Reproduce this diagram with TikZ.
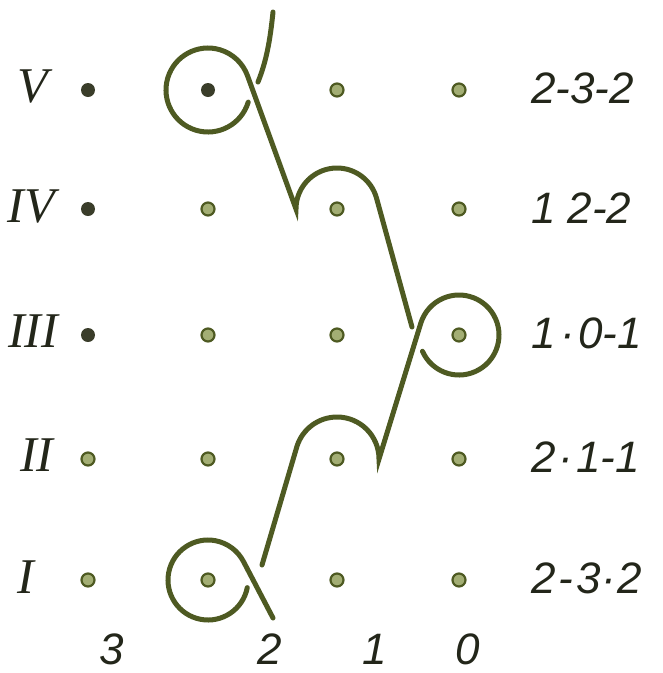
\documentclass[tikz,border=0pt]{standalone}
\usepackage{fontspec}
\setmainfont{Liberation Serif}
\setsansfont{Liberation Sans}
\definecolor{ink}{HTML}{4E5A22}
\definecolor{dotfill}{HTML}{A3AE74}
\definecolor{darkdot}{HTML}{3A3D2A}
\definecolor{txt}{HTML}{23261A}
\begin{document}
\begin{tikzpicture}[x=1pt,y=-1pt,
  curve/.style={draw=ink, line width=5pt, line cap=round, line join=miter},
  ringdot/.style={circle, draw=ink, fill=dotfill, line width=2.2pt, minimum size=13pt, inner sep=0pt},
  blackdot/.style={circle, fill=darkdot, minimum size=14pt, inner sep=0pt},
  llab/.style={font=\rmfamily\itshape\fontsize{50}{50}\selectfont, text=txt, inner sep=0pt},
  rlab/.style={font=\sffamily\itshape\fontsize{44}{44}\selectfont, text=txt, anchor=west, inner sep=0pt},
  blab/.style={font=\sffamily\itshape\fontsize{44}{44}\selectfont, text=txt, inner sep=0pt}]
\useasboundingbox (0,0) rectangle (663,673);
% dots: d<row><col>
\node[blackdot] (d53) at (88,90) {};
\node[blackdot] (d43) at (88,209) {};
\node[blackdot] (d33) at (88,335) {};
\node[ringdot]  (d23) at (88,459) {};
\node[ringdot]  (d13) at (88,580) {};
\node[blackdot] (d52) at (208,90) {};
\node[ringdot]  (d42) at (208,209) {};
\node[ringdot]  (d32) at (208,335) {};
\node[ringdot]  (d22) at (208,459) {};
\node[ringdot]  (d12) at (208,580) {};
\node[ringdot]  (d51) at (337,90) {};
\node[ringdot]  (d41) at (337,209) {};
\node[ringdot]  (d31) at (337,335) {};
\node[ringdot]  (d21) at (337,459) {};
\node[ringdot]  (d11) at (337,580) {};
\node[ringdot]  (d50) at (459,90) {};
\node[ringdot]  (d40) at (459,209) {};
\node[ringdot]  (d30) at (459,335) {};
\node[ringdot]  (d20) at (459,459) {};
\node[ringdot]  (d10) at (459,580) {};
% curves
\coordinate (top) at (273,12);
\coordinate (topend) at (258,82);
\coordinate (endB) at (412,327);
\coordinate (endC) at (262,565);
\coordinate (endD) at (273,618);
\draw[curve] (top) .. controls (270,42) and (266,62) .. (topend);
\draw[curve] ([shift={(16.7:42)}]d52.center) arc[start angle=16.7, end angle=340, radius=42]
   -- ([shift={(180:41)}]d41.center) arc[start angle=180, end angle=345, radius=41] -- (endB);
\draw[curve] ([shift={(156:40)}]d30.center) arc[start angle=156, end angle=-162, radius=40]
   -- ([shift={(0:42)}]d21.center) arc[start angle=0, end angle=-162, radius=42] -- (endC);
\draw[curve] ([shift={(11:40)}]d12.center) arc[start angle=11, end angle=333, radius=40] -- (endD);
% left labels
\node[llab] (lV) at (33,87) {V};
\node[llab] (lIV) at (31,207) {IV};
\node[llab] (lIII) at (33,331) {III};
\node[llab] (lII) at (37,455) {II};
\node[llab] (lI) at (26,577) {I};
% right labels
\node[rlab] (r5) at (531,88) {2-3-2};
\node[rlab] (r4) at (531,208) {1\hspace{12pt}2-2};
\node[rlab] (r3) at (531,333) {1\hspace{5pt}·\hspace{3pt}0-1};
\node[rlab] (r2) at (531,457) {2\hspace{3pt}·\hspace{3pt}1-1};
\node[rlab] (r1) at (531,578) {2\hspace{3pt}-\hspace{3pt}3\hspace{1pt}·\hspace{1pt}2};
% bottom labels
\node[blab] (b3) at (112,649) {3};
\node[blab] (b2) at (270,649) {2};
\node[blab] (b1) at (375,649) {1};
\node[blab] (b0) at (468,649) {0};
\end{tikzpicture}
\end{document}
